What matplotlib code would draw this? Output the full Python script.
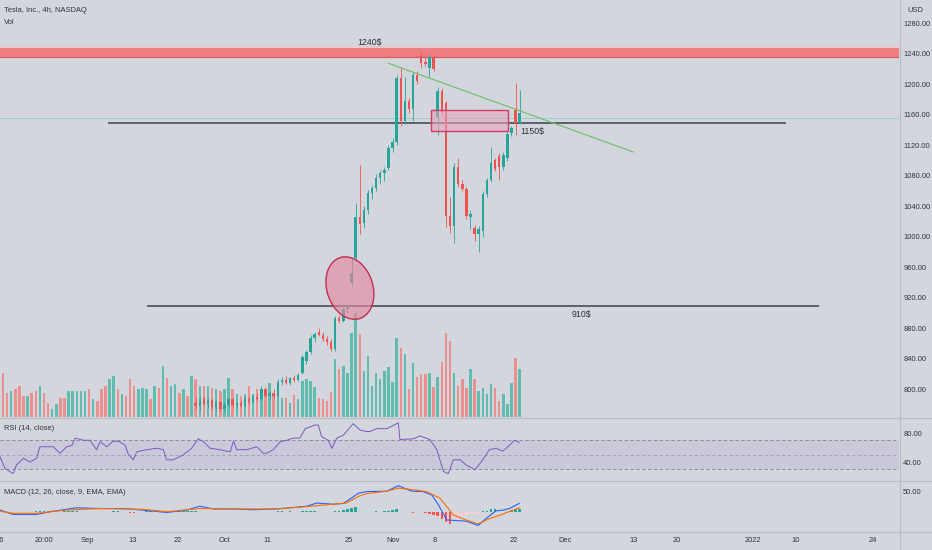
import matplotlib.pyplot as plt
from matplotlib.patches import Rectangle, Ellipse
from matplotlib.lines import Line2D
from matplotlib import transforms

plt.rcParams['font.family'] = ['Liberation Sans', 'DejaVu Sans']

### DATA ###

# candles start at bar 47 (earlier ones sit below the visible price range)
first_candle = 47
opens = [782, 778, 788, 781, 786, 777, 783, 775, 780, 787,
         779, 782, 778, 788, 784, 790, 787, 801, 792, 795,
         791, 810, 812, 809, 815, 813, 821, 838, 849, 868,
         876, 872, 866, 862, 853, 894, 890, 905, 940, 972,
         1026, 1018, 1035, 1058, 1064, 1078, 1084, 1090, 1117, 1125,
         1208, 1152, 1178, 1168, 1212, 1238, 1230, 1222, 1236, 1158,
         1192, 1176, 1028, 1015, 1092, 1070, 1063, 1026, 1012, 1004,
         1008, 1056, 1075, 1101, 1106, 1092, 1104, 1136, 1167, 1150]
highs = [790, 792, 791, 789, 788, 786, 785, 784, 790, 789,
         784, 786, 791, 792, 793, 795, 804, 803, 798, 800,
         814, 816, 818, 817, 819, 822, 845, 852, 872, 876,
         880, 875, 870, 866, 897, 898, 908, 913, 973, 1045,
         1094, 1040, 1062, 1068, 1082, 1088, 1092, 1120, 1130, 1212,
         1223, 1210, 1182, 1216, 1218, 1243, 1236, 1240, 1238, 1197,
         1195, 1178, 1052, 1097, 1104, 1075, 1066, 1035, 1016, 1014,
         1060, 1078, 1118, 1104, 1110, 1112, 1138, 1145, 1202, 1193]
lows = [774, 773, 778, 776, 775, 772, 772, 771, 777, 777,
        774, 776, 777, 781, 782, 785, 786, 790, 787, 789,
        790, 806, 807, 806, 810, 811, 820, 834, 846, 862,
        870, 864, 858, 850, 851, 887, 888, 900, 936, 968,
        1004, 1012, 1030, 1050, 1060, 1070, 1074, 1088, 1112, 1120,
        1145, 1148, 1163, 1152, 1200, 1222, 1224, 1208, 1218, 1134,
        1160, 1013, 1005, 992, 1066, 1060, 1024, 1010, 995, 980,
        1000, 1052, 1072, 1086, 1075, 1088, 1100, 1133, 1134, 1148]
closes = [778, 788, 781, 786, 777, 783, 775, 780, 787, 779,
          782, 778, 788, 784, 790, 787, 801, 792, 795, 791,
          810, 812, 809, 815, 813, 819, 842, 849, 868, 873,
          872, 866, 862, 853, 894, 890, 905, 909, 953, 1026,
          1017, 1035, 1058, 1064, 1078, 1084, 1088, 1117, 1125, 1208,
          1152, 1178, 1168, 1212, 1205, 1228, 1227, 1236, 1220, 1192,
          1165, 1028, 1015, 1092, 1070, 1063, 1028, 1030, 1004, 1010,
          1056, 1075, 1097, 1089, 1092, 1108, 1135, 1143, 1150, 1162]

volume = [44, 24, 26, 28, 31, 21, 21, 24, 26, 31,
          24, 14, 8, 13, 19, 19, 26, 26, 26, 26,
          26, 28, 18, 16, 28, 31, 38, 41, 28, 23,
          21, 38, 31, 28, 29, 28, 18, 31, 29, 51,
          39, 31, 33, 24, 28, 21, 41,
          38, 31, 31, 31, 29, 28, 26, 28, 39, 28, 23, 21, 23, 31, 23, 28,
          28, 26, 34, 24, 21, 19, 19, 14, 22, 18,
          36, 38, 36, 30, 19, 18, 16, 25,
          58, 48, 51, 44, 84, 104, 83,
          46, 61, 31, 44, 38, 46, 50, 35,
          79, 69, 63, 28, 54, 40,
          43, 43, 44, 30, 40, 55, 84, 76,
          44, 31, 38, 29, 48, 38, 26, 29, 23, 33, 29, 16, 23, 13, 34, 59, 48]
# direction of the bars before the first visible candle
vol_dir_early = "rrgrrrgrrgrrggrrgggggrgrrrggrgrrrgggrgrgrggrgrg"

rsi_bar = [-0.7, 0.5, 2.5, 3.3, 5, 6.6, 8.2, 9, 12.3, 13.9, 15.5, 16.8, 17.6, 19.6, 21.2,
           22.8, 23.7, 25.3, 26.9, 28.5, 29.8, 30.6, 31.8, 32.6, 35, 37.5, 39.1, 39.9, 41.5,
           44, 46, 47.6, 48.9, 50.5, 52.9, 55.4, 56.2, 57, 59.4, 61.9, 63.5, 64.3, 65.9,
           67.6, 69.2, 70.8, 72.4, 73.7, 76.1, 76.9, 77.7, 79.3, 80.2, 81.4, 83, 85.4,
           87.1, 88.7, 89.5, 91.1, 93.6, 96.4, 96.8, 100.1, 101.7, 104.1, 105.8, 107.4,
           108.6, 109.8, 111.5, 112.9, 114.6, 115, 116.6, 118.6, 120.2, 121.9, 123.5,
           124.7, 125.9]
rsi_val = [47, 31, 24, 36, 45, 40, 45, 61, 61, 52, 61, 63, 73, 70, 70,
           57, 68, 61, 69, 68, 63, 50, 43, 54, 57, 59, 57, 43, 43,
           50, 59, 72, 68, 59, 57, 54, 69, 57, 57, 61, 52, 52, 57,
           68, 70, 73, 73, 86, 91, 91, 75, 70, 59, 73, 77, 93,
           84, 82, 82, 86, 86, 94, 71, 72, 76, 71, 57, 27,
           24, 43, 43, 36, 31, 29, 40, 57, 59, 55, 63,
           70, 67]

macd_bar = [-0.7, 2.5, 8.2, 11.5, 17.9, 23.7, 29.4, 34.2, 39.9, 44.8, 48, 51.3, 56.2,
            61.1, 66.8, 70, 74.1, 76.5, 80.6, 83, 84.6, 86.7, 88.7, 93.6, 96.4, 99.7,
            102.5, 104.6, 106.2, 108.2, 109.8, 112.9, 115.9, 117.8, 120.2, 121.9, 123.5, 125.9]
macd_val = [4, -7, -7, 0, 10, 8, 8, 4, -2, 4, 14, 7, 7,
            5, 7, 10, 14, 22, 19, 21, 32, 47, 51, 52, 66, 52,
            51, 42, 17, -21, -22, -24, -35, -17, 2, 4, 8, 21]
signal_bar = [-0.7, 2.5, 8.2, 15.5, 23.7, 34.2, 39.9, 48, 56.2, 66.8, 74.1, 80.6, 83.8,
              86.7, 88.7, 93.6, 96.4, 99.7, 103.3, 106.6, 109.8, 112.9, 115.9, 118.5,
              121.9, 125.9]
signal_val = [1, -4, -4, 4, 8, 6, 0, 8, 7, 7, 13, 19, 22,
              39, 46, 52, 60, 56, 51, 34, -8, -21, -31, -18,
              -6, 10]
hist = [-2, -2, -2, -1, 0, 0, 0, 0, 1, 2,
        2, 1, 1, 0, 0, 1, 2, 2, 2, 1,
        0, 0, -1, -2, -2, -1, 0, 1, 1, 0,
        -2, -3, -3, -1, 0, 1, 1, 0, -1, -2,
        -3, -2, 0, 1, 2, 3, 3, 3, 2, 0,
        -1, 0, -2, -2, -2, -2, 0, -2, -2, -2,
        -1, 0, -2, -2, -2, 0, 0, 2, 2, 0,
        1, 0, 0, 2, 3, 3, 3, 2, 0, -1,
        -2, 2, 3, 4, 6, 9, 13, 8, 4, 2,
        1, 1, 0, 1, 3, 5, 8, 3, 0, -2,
        -3, 0, -2, -4, -6, -8, -12, -18, -26, -30,
        -24, -18, -12, -8, -6, -5, -4, 1, 3, 6,
        8, 6, 4, 3, 5, 6, 7]

date_pos = [-0.7, 10.0, 20.5, 31.5, 42.7, 54.1, 64.6, 84.4, 95.1, 105.4,
            124.6, 137.1, 153.9, 164.4, 182.9, 193.4, 212.2]
date_labels = ["16", "20:00", "Sep", "13", "22", "Oct", "11", "25", "Nov", "8",
               "22", "Dec", "13", "20", "2022", "10", "24"]
price_ticks = [1280, 1240, 1200, 1160, 1120, 1080, 1040, 1000, 960, 920, 880, 840, 800]

# drawings on the chart
zone_low, zone_high = 1236, 1249
level_1150 = (25.6, 191, 1150)
level_910 = (35.1, 199, 910)
trend = ([93.9, 153.7], [1228, 1111.5])
box = (104.4, 1139, 18.8, 27.6)       # x, y, width, height
circle_center = (84.6, 933)
last_price = 1156

### STYLE ###

bg = '#d3d6dd'
txt = '#2f333d'
green = '#26a69a'
red = '#ef5350'
fs = 5.4

fig = plt.figure(figsize=(9.32, 5.5), dpi=100)
fig.patch.set_facecolor(bg)

W, H = 932, 550
ax = fig.add_axes([0, 1 - 417 / H, 899 / W, 417 / H])
ax_rsi = fig.add_axes([0, 1 - 480 / H, 899 / W, 62 / H], sharex=ax)
ax_macd = fig.add_axes([0, 1 - 531 / H, 899 / W, 50 / H], sharex=ax)
ax_vol = ax.twinx()
ax.set_zorder(ax_vol.get_zorder() + 1)
ax.patch.set_visible(False)

for a in (ax, ax_rsi, ax_macd, ax_vol):
    a.set_facecolor(bg)
    for s in a.spines.values():
        s.set_visible(False)

### Main price panel ###

xs = list(range(first_candle, first_candle + len(closes)))
up = [c >= o for o, c in zip(opens, closes)]
ccol = [green if u else red for u in up]

ax.vlines(xs, lows, highs, colors=ccol, linewidth=0.6, zorder=3)
ax.bar(xs, [max(abs(c - o), 1.2) for o, c in zip(opens, closes)],
       bottom=[min(o, c) for o, c in zip(opens, closes)],
       width=0.6, color=ccol, linewidth=0, zorder=3)

# volume
vol_x = list(range(len(volume)))
vdir = [d == 'g' for d in vol_dir_early] + up
vcol = ['#5fbcae' if u else '#ec8f8f' for u in vdir]
ax_vol.bar(vol_x, volume, width=0.6, color=vcol, linewidth=0)
ax_vol.set_ylim(0, max(volume) * 4.0)
ax_vol.yaxis.set_visible(False)

ax.set_xlim(-0.73, 218.5)
ax.set_ylim(763.9, 1310.8)

ax.add_patch(Rectangle((-5, zone_low), 300, zone_high - zone_low,
                       facecolor='#ef7e82', edgecolor='#d9535d', linewidth=0.8, zorder=1))
ax.axhline(zone_high + 0.8, color='#f4c6c6', linewidth=0.8, zorder=1)
ax.axhline(last_price, color='#8ccfc5', linewidth=0.6, zorder=1)
ax.hlines(level_1150[2], level_1150[0], level_1150[1], color='#3c3f46', linewidth=1.1, zorder=2)
ax.hlines(level_910[2], level_910[0], level_910[1], color='#3c3f46', linewidth=1.1, zorder=2)
ax.plot(trend[0], trend[1], color='#6cbf66', linewidth=0.8, zorder=4)
ax.add_patch(Rectangle(box[:2], box[2], box[3], facecolor='#e7a3bd', alpha=0.6,
                       edgecolor='none', zorder=5))
ax.add_patch(Rectangle(box[:2], box[2], box[3], facecolor='none',
                       edgecolor='#d23c68', linewidth=1, zorder=5))

trans = fig.dpi_scale_trans + transforms.ScaledTranslation(circle_center[0], circle_center[1], ax.transData)
ax.add_patch(Ellipse((0, 0), 0.46, 0.64, angle=18, transform=trans,
                     facecolor='#e28aa2', alpha=0.65, edgecolor='none', zorder=6))
ax.add_patch(Ellipse((0, 0), 0.46, 0.64, angle=18, transform=trans,
                     facecolor='none', edgecolor='#c2304e', linewidth=1, zorder=6))

ax.text(89.5, 1255.7, "1240$", fontsize=6.3, color=txt, ha='center', va='center')
ax.text(126.1, 1137.7, "1150$", fontsize=6.3, color=txt, ha='left', va='center', zorder=7)
ax.text(141, 898, "910$", fontsize=6.3, color=txt, ha='center', va='center')

ax.yaxis.tick_right()
ax.set_yticks(price_ticks)
ax.set_yticklabels([f"{p:.2f}" for p in price_ticks])
ax.tick_params(axis='y', length=0, pad=3, labelsize=fs, labelcolor=txt)
ax.tick_params(axis='x', length=0, labelbottom=False)

fig.text(4 / W, 1 - 11 / H, "Tesla, Inc., 4h, NASDAQ", fontsize=fs, color=txt, va='center')
fig.text(4 / W, 1 - 23 / H, "Vol", fontsize=fs, color=txt, va='center')
fig.text(915 / W, 1 - 11 / H, "USD", fontsize=fs, color=txt, va='center', ha='center')

### RSI ###

ax_rsi.axhspan(30, 70, color='#9575cd', alpha=0.13, linewidth=0)
for lvl, al in ((70, 1), (50, 0.6), (30, 1)):
    ax_rsi.axhline(lvl, color='#80838c', linewidth=0.6, linestyle=(0, (4, 3)), alpha=al)
ax_rsi.plot(rsi_bar, rsi_val, color='#7e57c2', linewidth=0.7)
ax_rsi.set_ylim(15.2, 100.7)
ax_rsi.yaxis.tick_right()
ax_rsi.set_yticks([80, 40])
ax_rsi.set_yticklabels(["80.00", "40.00"])
ax_rsi.tick_params(axis='y', length=0, pad=3, labelsize=fs, labelcolor=txt)
ax_rsi.tick_params(axis='x', length=0, labelbottom=False)
ax_rsi.text(4 / 899, 1 - 10 / 62, "RSI (14, close)", transform=ax_rsi.transAxes,
            fontsize=fs, color=txt, va='center')

### MACD ###

hcol = []
for k, h in enumerate(hist):
    prev = hist[k - 1] if k > 0 else h
    if h >= 0:
        hcol.append('#26a69a' if h >= prev else '#b2dfdb')
    else:
        hcol.append('#ffcdd2' if h > prev else '#ff5252')
ax_macd.bar(vol_x, hist, width=0.6, color=hcol, linewidth=0)
ax_macd.plot(macd_bar, macd_val, color='#2962ff', linewidth=0.8)
ax_macd.plot(signal_bar, signal_val, color='#ff6d00', linewidth=0.8)
ax_macd.set_ylim(-49, 77.9)
ax_macd.yaxis.tick_right()
ax_macd.set_yticks([50])
ax_macd.set_yticklabels(["50.00"])
ax_macd.tick_params(axis='y', length=0, pad=3, labelsize=fs, labelcolor=txt)
ax_macd.set_xticks(date_pos)
ax_macd.set_xticklabels(date_labels)
ax_macd.tick_params(axis='x', length=0, pad=4, labelsize=fs, labelcolor=txt)
ax_macd.text(4 / 899, 1 - 11 / 50, "MACD (12, 26, close, 9, EMA, EMA)", transform=ax_macd.transAxes,
             fontsize=fs, color=txt, va='center')

### separators ###

sep = '#b9bcc4'
for yp in (417.5, 480.5, 531.5):
    fig.add_artist(Line2D([0, 1], [1 - yp / H, 1 - yp / H], transform=fig.transFigure,
                          color=sep, linewidth=0.8))
fig.add_artist(Line2D([899.5 / W, 899.5 / W], [0, 1], transform=fig.transFigure,
                      color=sep, linewidth=0.8))

fig.savefig("out.png", dpi=100, facecolor=bg)
